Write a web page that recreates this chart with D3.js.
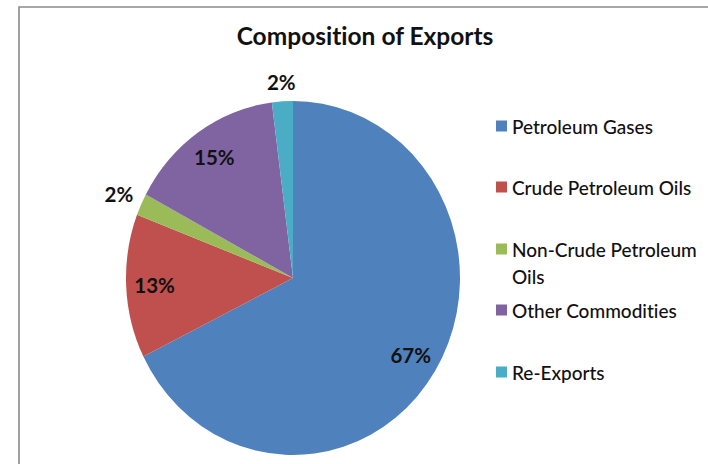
<!DOCTYPE html>
<html>
<head>
<meta charset="utf-8">
<script src="https://cdn.jsdelivr.net/npm/d3@7"></script>
<style>
  html, body { margin: 0; padding: 0; background: #fff; }
  svg { display: block; }
  text { font-family: Lato, "Open Sans", sans-serif; fill: #111; font-variant-ligatures: none; }
</style>
</head>
<body>
<svg id="chart" width="708" height="464"></svg>
<script>
// Export composition, shares in percent
const categories = ["Petroleum Gases", "Crude Petroleum Oils", "Non-Crude Petroleum Oils", "Other Commodities", "Re-Exports"];
const shares = [67, 13, 2, 15, 2];
const legendLines = [["Petroleum Gases"], ["Crude Petroleum Oils"], ["Non-Crude Petroleum", "Oils"], ["Other Commodities"], ["Re-Exports"]];
const palette = ["#4F81BD", "#C0504D", "#9BBB59", "#8064A2", "#4BACC6"];

const W = 708, H = 464;
const svg = d3.select("#chart");

// chart area frame
svg.append("path")
  .attr("d", `M19,${H + 2} L19,7 L${W + 2},7`)
  .attr("fill", "none")
  .attr("stroke", "#8a8a8a")
  .attr("stroke-width", 1.6);

svg.append("text")
  .attr("x", 365).attr("y", 45)
  .attr("text-anchor", "middle")
  .style("font-size", "24.5px")
  .style("font-weight", 700)
  .text("Composition of Exports");

const cx = 293, cy = 278, R = 167, sy = 1.06;
const color = d3.scaleOrdinal().domain(categories).range(palette);

const pie = d3.pie().sort(null).value(d => d.value);
const arcs = pie(categories.map((c, i) => ({ name: c, value: shares[i] })));
const arc = d3.arc().innerRadius(0).outerRadius(R);

const g = svg.append("g").attr("transform", `translate(${cx},${cy}) scale(1,${sy})`);
g.selectAll("path.slice")
  .data(arcs)
  .join("path")
  .attr("class", "slice")
  .attr("d", arc)
  .attr("fill", d => color(d.data.name));

// data labels: inside for large slices, outside for thin ones
const labelSize = 20.5;
svg.append("g").selectAll("text")
  .data(arcs)
  .join("text")
  .attr("text-anchor", "middle")
  .attr("dominant-baseline", "central")
  .style("font-size", labelSize + "px")
  .style("font-weight", 700)
  .text(d => d.data.value + "%")
  .each(function (d) {
    const a = (d.startAngle + d.endAngle) / 2;
    const s = Math.sin(a), c = -Math.cos(a);
    let r;
    if (d.data.value >= 5) {
      r = R * 0.83;
    } else {
      const w = this.getComputedTextLength(), h = labelSize;
      r = R + 7 + Math.abs(s) * w / 2 + Math.abs(c) * h / 2;
    }
    d3.select(this).attr("x", cx + r * s).attr("y", cy + r * c * sy);
  });

// legend
const legendY = [126, 187, 249, 310, 372];
const lg = svg.append("g");
const item = lg.selectAll("g")
  .data(categories)
  .join("g")
  .attr("transform", (d, i) => `translate(496,${legendY[i]})`);
item.append("rect")
  .attr("x", 0).attr("y", -5.5)
  .attr("width", 11).attr("height", 11)
  .attr("fill", d => color(d));
item.each(function (d, i) {
  legendLines[i].forEach((line, j) => {
    d3.select(this).append("text")
      .attr("x", 16).attr("y", j * 27)
      .attr("dominant-baseline", "central")
      .style("font-size", "19px")
      .style("font-weight", 500)
      .text(line);
  });
});
</script>
</body>
</html>
